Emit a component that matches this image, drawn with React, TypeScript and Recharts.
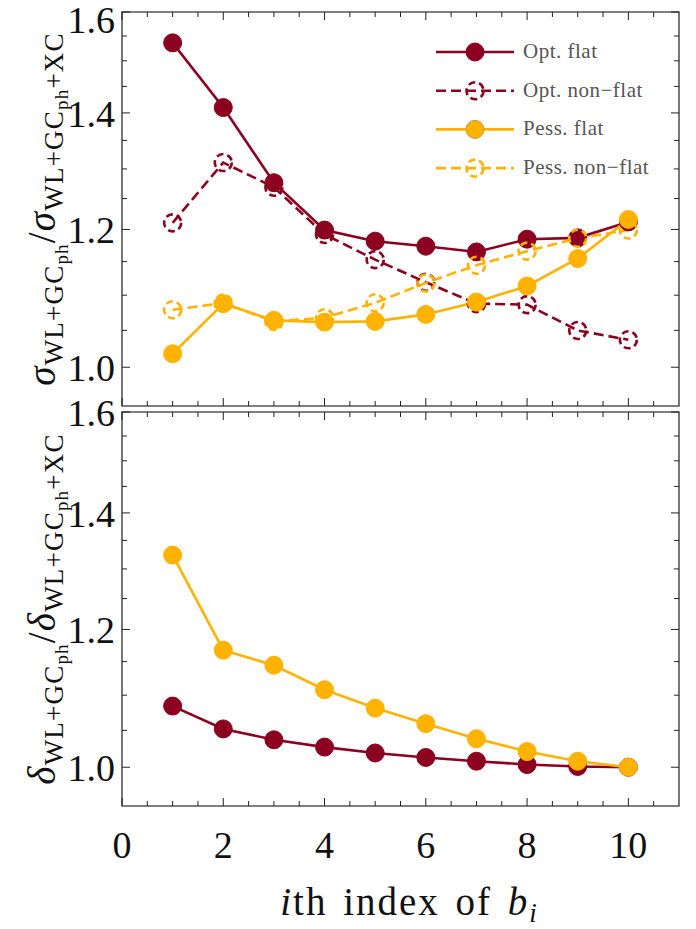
import React from 'react';
import { LineChart, Line, XAxis, YAxis, ReferenceArea, Legend } from 'recharts';

const binIndex = [1, 2, 3, 4, 5, 6, 7, 8, 9, 10];
const sigmaOptFlat = [1.536, 1.41, 1.2765, 1.199, 1.1815, 1.1737, 1.1648, 1.1846, 1.1867, 1.212];
const sigmaOptNonFlat = [1.2105, 1.311, 1.269, 1.192, 1.153, 1.119, 1.0878, 1.0863, 1.0499, 1.037];
const sigmaPessFlat = [1.018, 1.0878, 1.064, 1.0615, 1.0625, 1.0724, 1.09, 1.1135, 1.1547, 1.216];
const sigmaPessNonFlat = [1.079, 1.0885, 1.0625, 1.0677, 1.089, 1.118, 1.1445, 1.166, 1.186, 1.199];
const deltaOptFlat = [1.0843, 1.052, 1.037, 1.027, 1.019, 1.013, 1.008, 1.0036, 1.001, 1.0];
const deltaPessFlat = [1.324, 1.1675, 1.1445, 1.108, 1.0814, 1.0593, 1.0384, 1.021, 1.008, 1.0];

const xTicks = [0, 0.5, 1, 1.5, 2, 2.5, 3, 3.5, 4, 4.5, 5, 5.5, 6, 6.5, 7, 7.5, 8, 8.5, 9, 9.5, 10, 10.5];
const xMajorTicks = [0, 2, 4, 6, 8, 10];
const yTicks = [1.0, 1.05, 1.1, 1.15, 1.2, 1.25, 1.3, 1.35, 1.4, 1.45, 1.5, 1.55, 1.6];
const yMajorTicks = [1.0, 1.2, 1.4, 1.6];
const xDomain = [0, 11];
const yDomain = [0.95, 1.6];

const legendLabels = ['Opt. flat', 'Opt. non\u2212flat', 'Pess. flat', 'Pess. non\u2212flat'];

const DARK = '#8C0020';
const ORANGE = '#FFB200';
const FONT = '"Liberation Serif", "Times New Roman", serif';
const TICK_COLOR = '#222';
const FRAME_COLOR = '#555';

const W = 696;
const MARGIN_RIGHT = 17;
const Y_AXIS_W = 122;
const PLOT_RIGHT = W - MARGIN_RIGHT;
const BOTTOM_TOP = 376;

const topData = binIndex.map((i, k) => ({
  i,
  optFlat: sigmaOptFlat[k],
  optNonFlat: sigmaOptNonFlat[k],
  pessFlat: sigmaPessFlat[k],
  pessNonFlat: sigmaPessNonFlat[k],
}));
const bottomData = binIndex.map((i, k) => ({
  i,
  optFlat: deltaOptFlat[k],
  pessFlat: deltaPessFlat[k],
}));

const near = (a: number, b: number) => Math.abs(a - b) < 1e-6;

function YTick(props: any) {
  const { x, y, payload } = props;
  const v = payload.value as number;
  const major = yMajorTicks.some((m) => near(m, v));
  const len = major ? 8 : 5;
  return (
    <g>
      <line x1={x} x2={x + len} y1={y} y2={y} stroke={TICK_COLOR} strokeWidth={1} />
      <line x1={PLOT_RIGHT} x2={PLOT_RIGHT - len} y1={y} y2={y} stroke={TICK_COLOR} strokeWidth={1} />
      {major && (
        <text x={x - 7} y={Math.max(y + 14, 33)} textAnchor="end" fontSize={38} fontFamily={FONT} fill="#111">
          {v.toFixed(1)}
        </text>
      )}
    </g>
  );
}

function makeXTick(topY: number, showLabel: boolean) {
  return (props: any) => {
    const { x, y, payload } = props;
    const v = payload.value as number;
    const major = xMajorTicks.some((m) => near(m, v));
    const len = major ? 8 : 5;
    return (
      <g>
        <line x1={x} x2={x} y1={y} y2={y - len} stroke={TICK_COLOR} strokeWidth={1} />
        <line x1={x} x2={x} y1={topY} y2={topY + len} stroke={TICK_COLOR} strokeWidth={1} />
        {showLabel && major && (
          <text x={x} y={y + 52} textAnchor="middle" fontSize={38} fontFamily={FONT} fill="#111">
            {String(v)}
          </text>
        )}
      </g>
    );
  };
}

function makeYLabel(sym: string) {
  return (props: any) => {
    const vb = props.viewBox || {};
    const cx = (vb.x || 0) + 55;
    const cy = (vb.y || 0) + (vb.height || 0) / 2;
    return (
      <text
        x={cx}
        y={cy}
        transform={`rotate(-90, ${cx}, ${cy})`}
        textAnchor="middle"
        fontFamily={FONT}
        fill="#111"
        letterSpacing={1.2}
      >
        <tspan fontStyle="italic" fontSize={39}>{sym}</tspan>
        <tspan fontSize={27} dy={8}>WL+GC</tspan>
        <tspan fontSize={19} dy={5}>ph</tspan>
        <tspan fontSize={39} dy={-13}>/</tspan>
        <tspan fontStyle="italic" fontSize={39}>{sym}</tspan>
        <tspan fontSize={27} dy={8}>WL+GC</tspan>
        <tspan fontSize={19} dy={5}>ph</tspan>
        <tspan fontSize={27} dy={-5}>+XC</tspan>
      </text>
    );
  };
}

function XLabel(props: any) {
  const vb = props.viewBox || {};
  const cx = (vb.x || 0) + (vb.width || 0) / 2 + 9;
  const by = (vb.y || 0) + 109;
  return (
    <text x={cx} y={by} textAnchor="middle" fontFamily={FONT} fontSize={39} fill="#111" letterSpacing={2} wordSpacing={4}>
      <tspan fontStyle="italic">i</tspan>
      <tspan>th index of </tspan>
      <tspan fontStyle="italic">b</tspan>
      <tspan fontStyle="italic" fontSize={27} dy={7}>i</tspan>
    </text>
  );
}

function LegendContent() {
  const rows = [
    { color: DARK, dashed: false, filled: true },
    { color: DARK, dashed: true, filled: false },
    { color: ORANGE, dashed: false, filled: true },
    { color: ORANGE, dashed: true, filled: false },
  ];
  return (
    <svg width={260} height={160} style={{ overflow: 'visible', display: 'block' }}>
      {rows.map((r, k) => {
        const cy = 16 + k * 38.7;
        return (
          <g key={k}>
            <line
              x1={6}
              x2={84}
              y1={cy}
              y2={cy}
              stroke={r.color}
              strokeWidth={2.6}
              strokeDasharray={r.dashed ? '10 5' : undefined}
            />
            <circle
              cx={45}
              cy={cy}
              r={r.filled ? 9 : 8.5}
              fill={r.filled ? r.color : 'none'}
              stroke={r.filled ? (r.color === ORANGE ? '#C89A30' : r.color) : r.color}
              strokeWidth={r.filled ? 1 : 2.6}
              strokeDasharray={r.filled ? undefined : '7 4'}
            />
            <text x={93} y={cy + 6} fontFamily={FONT} fontSize={21} letterSpacing={0.5} fill="#555">
              {legendLabels[k]}
            </text>
          </g>
        );
      })}
    </svg>
  );
}

const filledDot = (c: string) => ({ r: 9, fill: c, stroke: c, strokeWidth: 1 });
const openDot = (c: string) => ({ r: 8.5, fill: 'none', stroke: c, strokeWidth: 2.6, strokeDasharray: '7 4' });

export default function App() {
  return (
    <div style={{ position: 'absolute', left: 0, top: 0, width: W, height: 929, background: '#fff' }}>
      <div style={{ position: 'absolute', left: 0, top: 0 }}>
        <LineChart
          width={W}
          height={412}
          data={topData}
          margin={{ top: 12, right: MARGIN_RIGHT, bottom: 0, left: 0 }}
        >
          <XAxis
            dataKey="i"
            type="number"
            domain={xDomain}
            ticks={xTicks}
            interval={0}
            allowDataOverflow
            height={6}
            tickSize={0}
            tickMargin={0}
            tickLine={false}
            axisLine={false}
            tick={makeXTick(12, false)}
          />
          <YAxis
            type="number"
            scale="log"
            domain={yDomain}
            ticks={yTicks}
            interval={0}
            allowDataOverflow
            width={Y_AXIS_W}
            tickSize={0}
            tickMargin={0}
            tickLine={false}
            axisLine={false}
            tick={YTick}
            label={{ value: 'sigma', content: makeYLabel('\u03C3') }}
          />
          <ReferenceArea
            x1={xDomain[0]}
            x2={xDomain[1]}
            y1={yDomain[0]}
            y2={yDomain[1]}
            fill="none"
            stroke={FRAME_COLOR}
            strokeWidth={1.6}
            ifOverflow="visible"
          />
          <Line dataKey="optFlat" stroke={DARK} strokeWidth={2.6} dot={filledDot(DARK)} activeDot={false} isAnimationActive={false} />
          <Line dataKey="optNonFlat" stroke={DARK} strokeWidth={2.6} strokeDasharray="10 5" dot={openDot(DARK)} activeDot={false} isAnimationActive={false} />
          <Line dataKey="pessFlat" stroke={ORANGE} strokeWidth={2.6} dot={filledDot(ORANGE)} activeDot={false} isAnimationActive={false} />
          <Line dataKey="pessNonFlat" stroke={ORANGE} strokeWidth={2.6} strokeDasharray="10 5" dot={openDot(ORANGE)} activeDot={false} isAnimationActive={false} />
          <Legend
            layout="vertical"
            align="center"
            verticalAlign="middle"
            content={<LegendContent />}
            wrapperStyle={{ position: 'absolute', left: 430, top: 36, width: 260, height: 160 }}
          />
        </LineChart>
      </div>
      <div style={{ position: 'absolute', left: 0, top: BOTTOM_TOP }}>
        <LineChart
          width={W}
          height={929 - BOTTOM_TOP}
          data={bottomData}
          margin={{ top: 412 - BOTTOM_TOP, right: MARGIN_RIGHT, bottom: 0, left: 0 }}
        >
          <XAxis
            dataKey="i"
            type="number"
            domain={xDomain}
            ticks={xTicks}
            interval={0}
            allowDataOverflow
            height={123}
            tickSize={0}
            tickMargin={0}
            tickLine={false}
            axisLine={false}
            tick={makeXTick(412 - BOTTOM_TOP, true)}
            label={{ value: 'index', content: XLabel }}
          />
          <YAxis
            type="number"
            scale="log"
            domain={yDomain}
            ticks={yTicks}
            interval={0}
            allowDataOverflow
            width={Y_AXIS_W}
            tickSize={0}
            tickMargin={0}
            tickLine={false}
            axisLine={false}
            tick={YTick}
            label={{ value: 'delta', content: makeYLabel('\u03B4') }}
          />
          <ReferenceArea
            x1={xDomain[0]}
            x2={xDomain[1]}
            y1={yDomain[0]}
            y2={yDomain[1]}
            fill="none"
            stroke={FRAME_COLOR}
            strokeWidth={1.6}
            ifOverflow="visible"
          />
          <Line dataKey="optFlat" stroke={DARK} strokeWidth={2.6} dot={filledDot(DARK)} activeDot={false} isAnimationActive={false} />
          <Line dataKey="pessFlat" stroke={ORANGE} strokeWidth={2.6} dot={filledDot(ORANGE)} activeDot={false} isAnimationActive={false} />
        </LineChart>
      </div>
    </div>
  );
}
